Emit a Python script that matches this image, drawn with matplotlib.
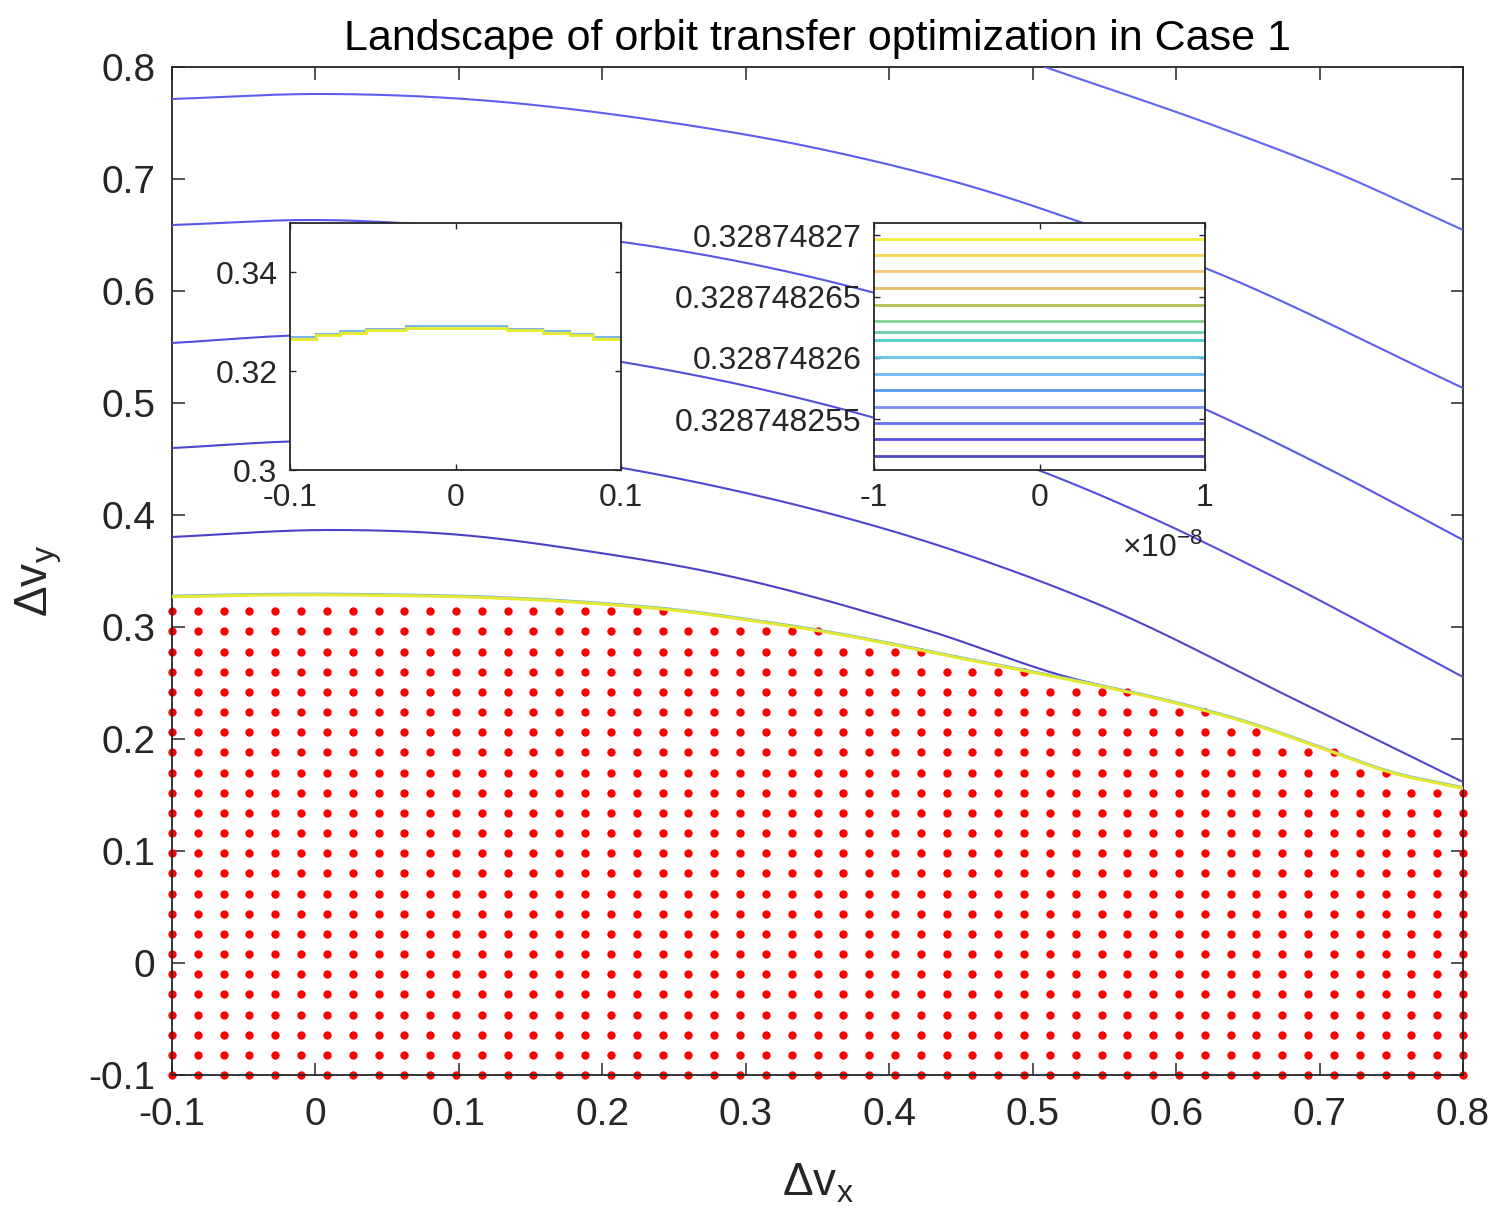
import numpy as np
import matplotlib.pyplot as plt
from matplotlib import transforms

plt.rcParams['font.family'] = ['Liberation Sans', 'DejaVu Sans']
plt.rcParams['mathtext.default'] = 'regular'

# feasibility boundary (the yellow curve)
bound_x = [-0.1, -0.05, 0.0, 0.05, 0.1, 0.15, 0.2, 0.25, 0.3, 0.35,
           0.4, 0.45, 0.5, 0.55, 0.6, 0.65, 0.7, 0.75, 0.8]
bound_y = [0.3270, 0.3283, 0.3288, 0.3282, 0.3270, 0.3245, 0.3205, 0.3150, 0.3065, 0.2968,
           0.2850, 0.2720, 0.2595, 0.2465, 0.2320, 0.2145, 0.1925, 0.1700, 0.1560]

# sampling grid (red dots = feasible samples)
grid_x = np.linspace(-0.1, 0.8, 51)
grid_y = np.linspace(-0.1, 0.8, 51)

# contour lines of the landscape (blue), top to bottom
curve_a_x = [0.5086, 0.6292, 0.7073, 0.8]
curve_a_y = [0.8, 0.7464, 0.7080, 0.6545]
curve_b_x = [-0.1, 0.0011, 0.0938, 0.2402, 0.3552, 0.4724, 0.533, 0.6202, 0.8]
curve_b_y = [0.7714, 0.7759, 0.7723, 0.7518, 0.7259, 0.6875, 0.6616, 0.6205, 0.5134]
curve_c_x = [-0.1, 0.0011, 0.0938, 0.2137, 0.3901, 0.6202, 0.7073, 0.8]
curve_c_y = [0.6589, 0.6634, 0.6580, 0.6438, 0.5982, 0.4945, 0.4405, 0.3777]
curve_d_x = [-0.1, 0.0011, 0.0938, 0.2137, 0.3901, 0.5037, 0.5818, 0.6724, 0.8]
curve_d_y = [0.5536, 0.5607, 0.5563, 0.5366, 0.4866, 0.4402, 0.3982, 0.3420, 0.2554]
curve_e_x = [-0.1, 0.0011, 0.0938, 0.2137, 0.2681, 0.4647, 0.5470, 0.6864, 0.8]
curve_e_y = [0.4598, 0.4661, 0.4616, 0.4420, 0.4286, 0.3598, 0.3196, 0.2330, 0.1616]
curve_f_x = [-0.1, 0.0081, 0.0938, 0.1984, 0.2681, 0.4305, 0.5240, 0.5600]
curve_f_y = [0.3804, 0.3866, 0.3830, 0.3661, 0.3509, 0.2955, 0.2554, 0.2440]

# inset 1: zoom on the boundary near the top (stepped contour)
step_edges = [-0.1, -0.084, -0.07, -0.054, -0.03, 0.031, 0.053, 0.069, 0.083, 0.1]
step_vals = [0.3266, 0.3273, 0.3278, 0.3283, 0.3288, 0.3283, 0.3278, 0.3273, 0.3266]

# inset 2: contour levels of the deep zoom, top to bottom
levels = [0.32874826973, 0.32874826843, 0.32874826706, 0.32874826570, 0.32874826435,
          0.32874826304, 0.32874826211, 0.32874826146, 0.32874826007, 0.32874825872,
          0.32874825738, 0.32874825603, 0.32874825469, 0.32874825336, 0.32874825203]
level_colors = ['#f2ee3a', '#f6d54a', '#f9c67a', '#e7c066', '#b4c052', '#86d08e', '#6ad2a6',
                '#4ecfca', '#62c6e8', '#70b8f4', '#5a98f0', '#7a90fa', '#6670f0', '#5a52e0', '#5046c4']

xticks = [-0.1, 0, 0.1, 0.2, 0.3, 0.4, 0.5, 0.6, 0.7, 0.8]
tick_labels = ['-0.1', '0', '0.1', '0.2', '0.3', '0.4', '0.5', '0.6', '0.7', '0.8']

ink = '#262626'


def smooth(xs, ys, n=30):
    # cubic Hermite through the read points, only for a smooth drawn line
    x = np.asarray(xs, float)
    y = np.asarray(ys, float)
    h = np.diff(x)
    s = np.diff(y) / h
    d = np.empty_like(x)
    d[0], d[-1] = s[0], s[-1]
    d[1:-1] = (h[:-1] * s[1:] + h[1:] * s[:-1]) / (h[:-1] + h[1:])
    t = np.linspace(0, 1, n, endpoint=False)
    px, py = [], []
    for i in range(len(h)):
        yy = ((2 * t**3 - 3 * t**2 + 1) * y[i] + (t**3 - 2 * t**2 + t) * h[i] * d[i]
              + (-2 * t**3 + 3 * t**2) * y[i + 1] + (t**3 - t**2) * h[i] * d[i + 1])
        px.append(x[i] + t * h[i])
        py.append(yy)
    px.append([x[-1]])
    py.append([y[-1]])
    return np.concatenate(px), np.concatenate(py)


fig = plt.figure(figsize=(15, 12.31), dpi=100)
ax = fig.add_axes([172 / 1500, 1 - 1075 / 1231, 1291 / 1500, 1008 / 1231])

# red dots below the boundary
bx = np.interp(grid_x, bound_x, bound_y)
GX, GY = np.meshgrid(grid_x, grid_y, indexing='ij')
mask = GY <= bx[:, None] + 0.0006
ax.plot(GX[mask], GY[mask], 'o', color='red', ms=6, mec='none', clip_on=False, zorder=2)

curves = [(curve_a_x, curve_a_y, '#6264f2'), (curve_b_x, curve_b_y, '#5d5eee'),
          (curve_c_x, curve_c_y, '#5856e6'), (curve_d_x, curve_d_y, '#534edc'),
          (curve_e_x, curve_e_y, '#4f46d0'), (curve_f_x, curve_f_y, '#4c40c6')]
for cx, cy, col in curves:
    sx, sy = smooth(cx, cy)
    ax.plot(sx, sy, color=col, lw=1.5, zorder=3)

sbx, sby = smooth(bound_x, bound_y)
up = transforms.offset_copy(ax.transData, fig=fig, x=0, y=1.3, units='dots')
ax.plot(sbx, sby, color='#6fb0e0', lw=1.2, transform=up, zorder=4)
ax.plot(sbx, sby, color='#e4e832', lw=2.2, zorder=4)

ax.set_xlim(-0.1, 0.8)
ax.set_ylim(-0.1, 0.8)
ax.set_xticks(xticks)
ax.set_xticklabels(tick_labels)
ax.set_yticks(xticks)
ax.set_yticklabels(tick_labels)
ax.tick_params(direction='in', length=9, width=1.1, top=True, right=True,
               labelsize=28, colors=ink)
ax.tick_params(axis='x', pad=16)
ax.tick_params(axis='y', pad=12)
for s in ax.spines.values():
    s.set_color(ink)
    s.set_linewidth(1.3)

ax.set_title('Landscape of orbit transfer optimization in Case 1', fontsize=31, pad=12)
ax.set_xlabel('Δ$v_x$', fontsize=33, color=ink)
ax.xaxis.set_label_coords(0.5, -0.108)
ax.xaxis.label.set_va('center')
ax.set_ylabel('Δ$v_y$', fontsize=33, color=ink)
ax.yaxis.set_label_coords(-0.103, 0.49)
ax.yaxis.label.set_va('center')

# inset 1
ax1 = fig.add_axes([290 / 1500, 1 - 470 / 1231, 331 / 1500, 247 / 1231])
up1 = transforms.offset_copy(ax1.transData, fig=fig, x=0, y=1.5, units='dots')
ax1.stairs(step_vals, step_edges, baseline=None, color='#7ab8e8', lw=1.5, transform=up1)
ax1.stairs(step_vals, step_edges, baseline=None, color='#e6ea2a', lw=2.0)
ax1.set_xlim(-0.1, 0.1)
ax1.set_ylim(0.3, 0.35)
ax1.set_xticks([-0.1, 0, 0.1])
ax1.set_xticklabels(['-0.1', '0', '0.1'])
ax1.set_yticks([0.3, 0.32, 0.34])
ax1.set_yticklabels(['0.3', '0.32', '0.34'])

# inset 2
ax2 = fig.add_axes([874 / 1500, 1 - 470 / 1231, 331 / 1500, 247 / 1231])
ax2.hlines(levels, -1e-8, 1e-8, colors=level_colors, lw=2.0)
ax2.set_xlim(-1e-8, 1e-8)
ax2.set_ylim(0.32874825085, 0.3287482710)
ax2.set_xticks([-1e-8, 0, 1e-8])
ax2.set_xticklabels(['-1', '0', '1'])
ax2.set_yticks([0.328748255, 0.32874826, 0.328748265, 0.32874827])
ax2.set_yticklabels(['0.328748255', '0.32874826', '0.328748265', '0.32874827'])

for a in (ax1, ax2):
    a.tick_params(direction='in', length=4, width=1, top=True, right=True,
                  labelsize=23, colors=ink, pad=9)
    for s in a.spines.values():
        s.set_color(ink)
        s.set_linewidth(1.3)
    a.set_facecolor('white')

fig.text(1163 / 1500, 1 - 548 / 1231, '×10$^{-8}$', fontsize=23, color=ink,
         ha='center', va='center')

fig.savefig('out.png', dpi=100, facecolor='white')
